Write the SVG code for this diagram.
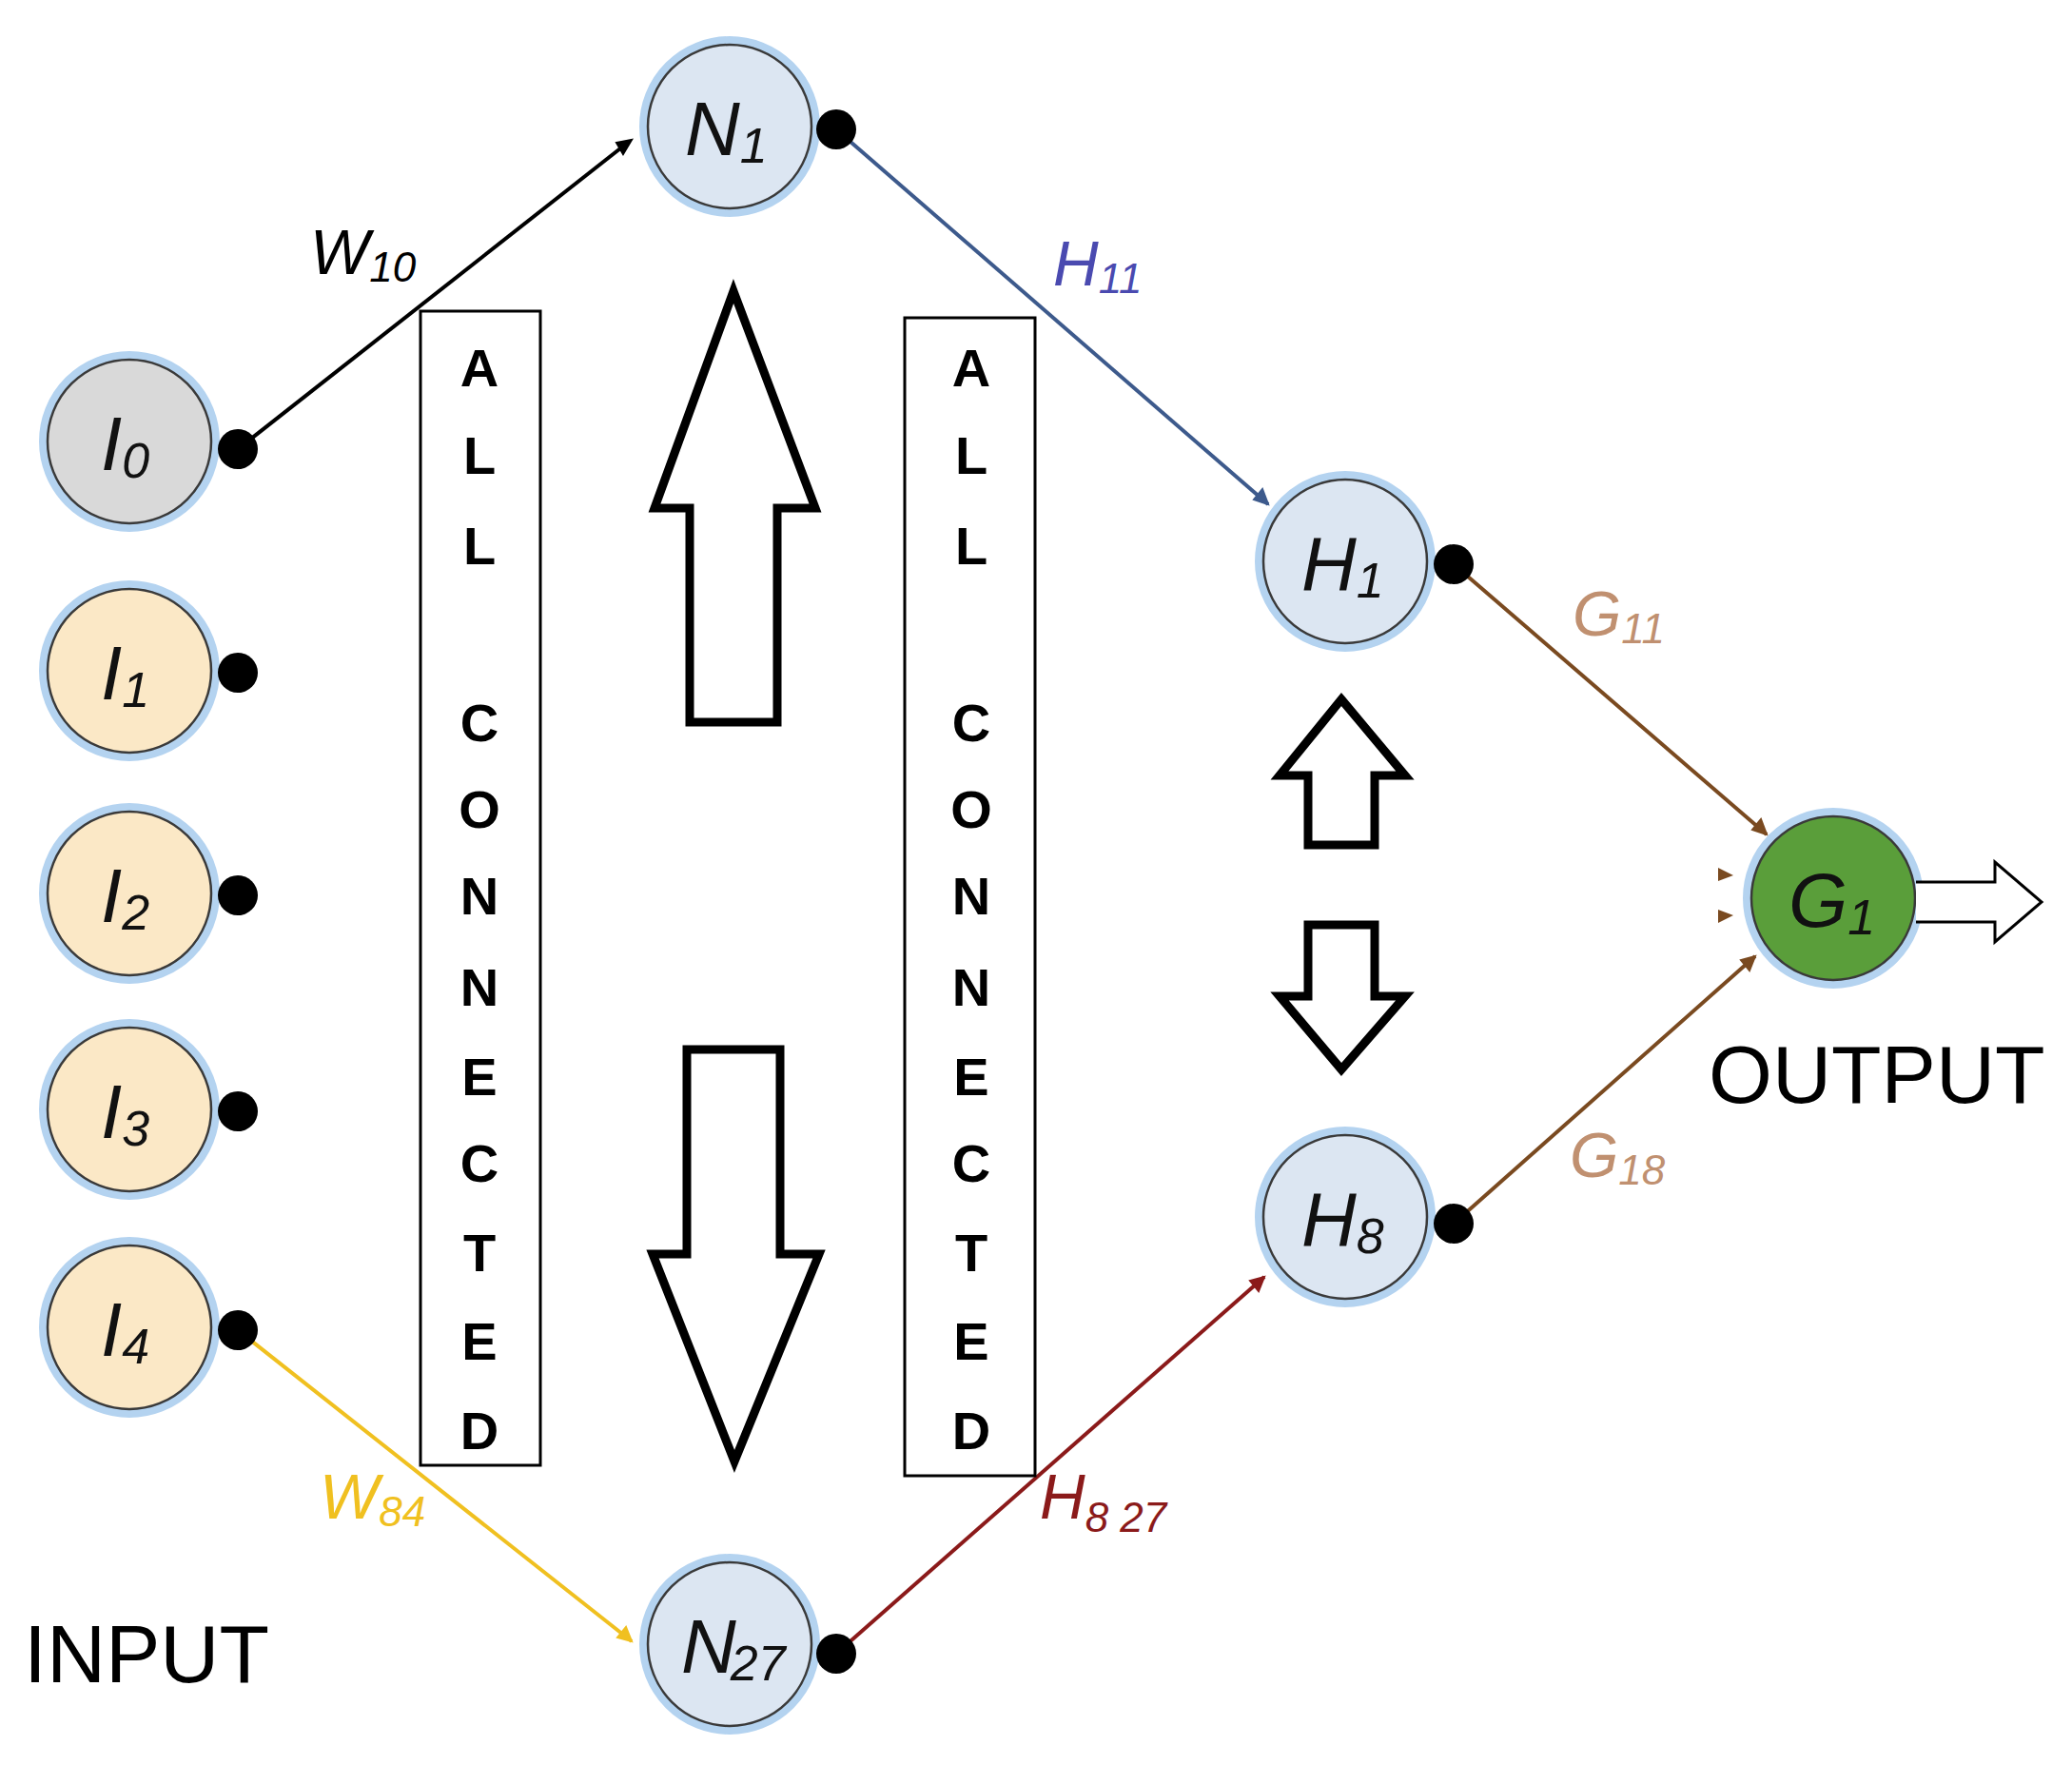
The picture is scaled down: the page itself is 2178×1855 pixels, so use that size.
<svg xmlns="http://www.w3.org/2000/svg" width="2178" height="1855" viewBox="0 0 2178 1855">
<style>
.glow{fill:none;stroke:#b4d3f0;stroke-width:14}
.nd{stroke:#3a3a3a;stroke-width:2.5}
.nb{fill:#dce6f2}
.ni{fill:#fbe8c6}
.nt{font-family:"Liberation Sans",Arial,sans-serif;font-style:italic;font-size:80px;fill:#111}
.sub{font-size:52px}
.dot{fill:#000}
.lt{font-family:"Liberation Sans",Arial,sans-serif;font-style:italic;font-size:66px}
.ls{font-size:44px}
.box{fill:none;stroke:#000;stroke-width:3}
.bl{font-family:"Liberation Sans",Arial,sans-serif;font-weight:bold;font-size:56px;text-anchor:middle}
.big{fill:#fff;stroke:#000;stroke-width:9;stroke-linejoin:miter}
.cap{font-family:"Liberation Sans",Arial,sans-serif;font-size:86px}
</style>
<rect width="2178" height="1855" fill="#fff"/>
<g id="connectors" fill="none" stroke-width="4">
<line x1="250" y1="472" x2="661" y2="149" stroke="#000"/>
<path d="M648,150 L664,147 L655,162 z" fill="#000" stroke="#000" stroke-width="2"/>
<line x1="879" y1="136" x2="1333" y2="530" stroke="#3d5a8c"/>
<path d="M1333,530 L1318,525 L1327,514 z" fill="#3d5a8c" stroke="#3d5a8c" stroke-width="2"/>
<line x1="1528" y1="593" x2="1857" y2="877" stroke="#7a4a20"/>
<path d="M1857,877 L1842,872 L1851,861 z" fill="#7a4a20" stroke="#7a4a20" stroke-width="2"/>
<line x1="1528" y1="1286" x2="1845" y2="1005" stroke="#7a4a20"/>
<path d="M1845,1005 L1839,1020 L1830,1009 z" fill="#7a4a20" stroke="#7a4a20" stroke-width="2"/>
<line x1="879" y1="1738" x2="1329" y2="1342" stroke="#8b1a1a"/>
<path d="M1329,1342 L1323,1357 L1314,1346 z" fill="#8b1a1a" stroke="#8b1a1a" stroke-width="2"/>
<line x1="250" y1="1398" x2="664" y2="1725" stroke="#f0c020"/>
<path d="M664,1725 L649,1721 L658,1710 z" fill="#f0c020" stroke="#f0c020" stroke-width="2"/>
<path d="M1806,912 L1822,920 L1806,926 z" fill="#7a4a20" stroke="none"/>
<path d="M1806,956 L1822,962 L1806,970 z" fill="#7a4a20" stroke="none"/>
</g>
<g id="I0"><circle class="glow" cx="136" cy="464" r="88"/><circle class="nd" cx="136" cy="464" r="86" fill="#d9d9d9"/><text class="nt" x="106" y="494">I<tspan class="sub" dy="8">0</tspan></text><circle class="dot" cx="250" cy="472" r="21"/></g>
<g id="I1"><circle class="glow" cx="136" cy="705" r="88"/><circle class="nd ni" cx="136" cy="705" r="86"/><text class="nt" x="106" y="735">I<tspan class="sub" dy="8">1</tspan></text><circle class="dot" cx="250" cy="707" r="21"/></g>
<g id="I2"><circle class="glow" cx="136" cy="939" r="88"/><circle class="nd ni" cx="136" cy="939" r="86"/><text class="nt" x="106" y="969">I<tspan class="sub" dy="8">2</tspan></text><circle class="dot" cx="250" cy="941" r="21"/></g>
<g id="I3"><circle class="glow" cx="136" cy="1166" r="88"/><circle class="nd ni" cx="136" cy="1166" r="86"/><text class="nt" x="106" y="1196">I<tspan class="sub" dy="8">3</tspan></text><circle class="dot" cx="250" cy="1168" r="21"/></g>
<g id="I4"><circle class="glow" cx="136" cy="1395" r="88"/><circle class="nd ni" cx="136" cy="1395" r="86"/><text class="nt" x="106" y="1425">I<tspan class="sub" dy="8">4</tspan></text><circle class="dot" cx="250" cy="1398" r="21"/></g>
<g id="N1"><circle class="glow" cx="767" cy="133" r="88"/><circle class="nd nb" cx="767" cy="133" r="86"/><text class="nt" x="720" y="163">N<tspan class="sub" dy="8">1</tspan></text><circle class="dot" cx="879" cy="136" r="21"/></g>
<g id="N27"><circle class="glow" cx="767" cy="1728" r="88"/><circle class="nd nb" cx="767" cy="1728" r="86"/><text class="nt" x="716" y="1758">N<tspan class="sub" dx="-6" dy="8">27</tspan></text><circle class="dot" cx="879" cy="1738" r="21"/></g>
<g id="H1"><circle class="glow" cx="1414" cy="590" r="88"/><circle class="nd nb" cx="1414" cy="590" r="86"/><text class="nt" x="1368" y="620">H<tspan class="sub" dy="8">1</tspan></text><circle class="dot" cx="1528" cy="593" r="21"/></g>
<g id="H8"><circle class="glow" cx="1414" cy="1279" r="88"/><circle class="nd nb" cx="1414" cy="1279" r="86"/><text class="nt" x="1368" y="1309">H<tspan class="sub" dy="8">8</tspan></text><circle class="dot" cx="1528" cy="1286" r="21"/></g>
<g id="G1"><circle class="glow" cx="1927" cy="944" r="88"/><circle class="nd" cx="1927" cy="944" r="86" fill="#5a9e3a"/><text class="nt" x="1880" y="974">G<tspan class="sub" dy="8">1</tspan></text>
<path d="M2014,927 H2097 V906 L2146,948 L2097,990 V969 H2014" fill="#fff" stroke="#000" stroke-width="3"/></g>
<g id="labels">
<text class="lt" x="326" y="288" fill="#000">W<tspan class="ls" dy="8">10</tspan></text>
<text class="lt" x="1107" y="300" fill="#4a4ab0">H<tspan class="ls" dy="8">11</tspan></text>
<text class="lt" x="1653" y="668" fill="#c09070">G<tspan class="ls" dy="8">11</tspan></text>
<text class="lt" x="1650" y="1237" fill="#c09070">G<tspan class="ls" dy="8">18</tspan></text>
<text class="lt" x="1093" y="1596" fill="#8b1a1a">H<tspan class="ls" dy="14">8 27</tspan></text>
<text class="lt" x="336" y="1596" fill="#f0c020">W<tspan class="ls" dy="8">84</tspan></text>
<text class="cap" x="25" y="1768">INPUT</text>
<text class="cap" x="1796" y="1159">OUTPUT</text>
</g>
<g id="box-left"><rect class="box" x="442" y="327" width="126" height="1213"/>
<text class="bl"><tspan x="504" y="406">A</tspan><tspan x="504" y="498">L</tspan><tspan x="504" y="593">L</tspan><tspan x="504" y="779">C</tspan><tspan x="504" y="870">O</tspan><tspan x="504" y="961">N</tspan><tspan x="504" y="1057">N</tspan><tspan x="504" y="1151">E</tspan><tspan x="504" y="1242">C</tspan><tspan x="504" y="1336">T</tspan><tspan x="504" y="1429">E</tspan><tspan x="504" y="1523">D</tspan></text></g>
<g id="box-right"><rect class="box" x="951" y="334" width="137" height="1217"/>
<text class="bl"><tspan x="1021" y="406">A</tspan><tspan x="1021" y="498">L</tspan><tspan x="1021" y="593">L</tspan><tspan x="1021" y="779">C</tspan><tspan x="1021" y="870">O</tspan><tspan x="1021" y="961">N</tspan><tspan x="1021" y="1057">N</tspan><tspan x="1021" y="1151">E</tspan><tspan x="1021" y="1242">C</tspan><tspan x="1021" y="1336">T</tspan><tspan x="1021" y="1429">E</tspan><tspan x="1021" y="1523">D</tspan></text></g>
<g id="arrow-up-big"><path class="big" d="M771,306 L857,534 H817 V759 H725 V534 H688 Z"/></g>
<g id="arrow-down-big"><path class="big" d="M722,1103 H820 V1318 H861 L772,1536 L686,1318 H722 Z"/></g>
<g id="arrow-up-small"><path class="big" d="M1410,735 L1477,815 H1445 V888 H1375 V815 H1345 Z"/></g>
<g id="arrow-down-small"><path class="big" d="M1375,972 H1445 V1047 H1477 L1410,1124 L1345,1047 H1375 Z"/></g>
</svg>
